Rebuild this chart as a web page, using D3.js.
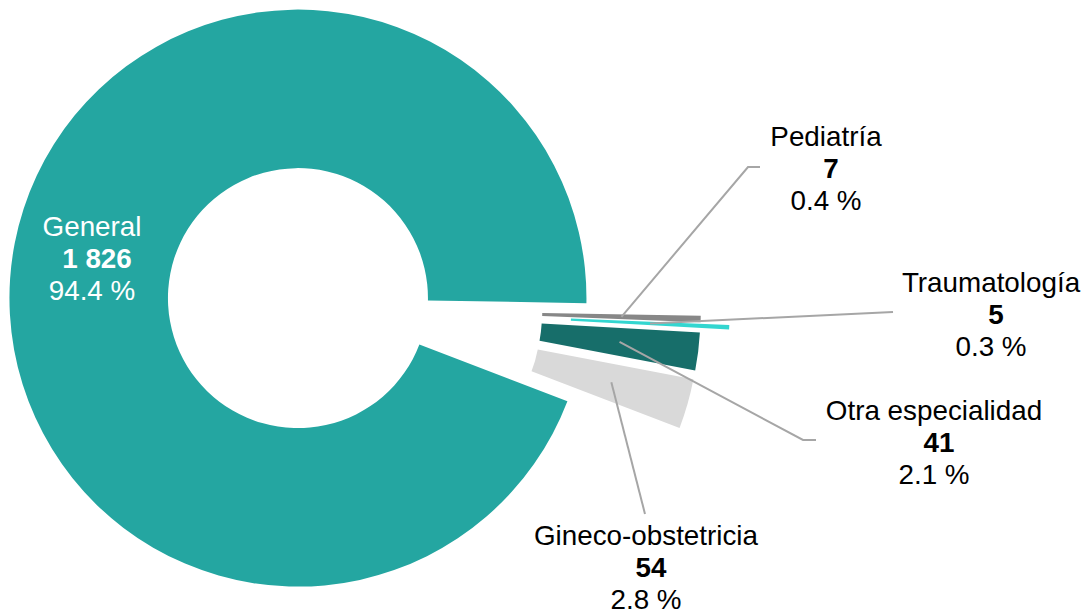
<!DOCTYPE html>
<html>
<head>
<meta charset="utf-8">
<script src="https://cdn.jsdelivr.net/npm/d3@7"></script>
<style>
  html, body { margin: 0; padding: 0; background: #ffffff; }
  svg { display: block; }
  text { font-family: "Liberation Sans", Arial, sans-serif; }
</style>
</head>
<body>
<svg id="chart" width="1087" height="614"></svg>
<script>
// ---- Data ----
const categories = ["General", "Pediatría", "Traumatología", "Otra especialidad", "Gineco-obstetricia"];
const values = [1826, 7, 5, 41, 54];
const valueLabels = ["1 826", "7", "5", "41", "54"];
const percentLabels = ["94.4 %", "0.4 %", "0.3 %", "2.1 %", "2.8 %"];

// ---- Styling / layout ----
const colors = ["#24A6A1", "#878787", "#33D6D0", "#176E6A", "#D9D9D9"];
const explodeFrac = [0.2, 0.2, 0.3, 0.2, 0.2];
const labelColors = ["#ffffff", "#000000", "#000000", "#000000", "#000000"];
// label centre x and first-line baseline y
const labelPos = [[92, 236], [826, 146], [991, 292], [934, 420], [646, 545]];
// leader path after centroid (elbow / end points)
const leaderPts = [null, [[748, 167], [760, 167]], [[893, 312]], [[803, 440], [816, 440]], [[645, 514]]];

const W = 1087, H = 614;
const cx = 354.6, cy = 309.1;
const R = 288.5, r = 130;
const fontSize = 27.8, lineGap = 32;
const numberShift = 5;

const svg = d3.select("#chart");
svg.append("rect").attr("width", W).attr("height", H).attr("fill", "#ffffff");

const deg = Math.PI / 180;
const start = 110.93 * deg;
const pie = d3.pie().sort(null).value(d => d).startAngle(start).endAngle(start + 2 * Math.PI);
const arcs = pie(values);
const arc = d3.arc().innerRadius(r).outerRadius(R);

const offsets = arcs.map((d, i) => {
  const mid = (d.startAngle + d.endAngle) / 2;
  const off = explodeFrac[i] * R;
  return [cx + Math.sin(mid) * off, cy - Math.cos(mid) * off];
});

const g = svg.append("g");
g.selectAll("path.slice")
  .data(arcs)
  .join("path")
  .attr("class", "slice")
  .attr("d", arc)
  .attr("fill", (d, i) => colors[i])
  .attr("transform", (d, i) => `translate(${offsets[i][0]},${offsets[i][1]})`);

// leader lines
const line = d3.line();
arcs.forEach((d, i) => {
  if (!leaderPts[i]) return;
  const c = arc.centroid(d);
  const p0 = [c[0] + offsets[i][0], c[1] + offsets[i][1]];
  svg.append("path")
    .attr("d", line([p0, ...leaderPts[i]]))
    .attr("fill", "none")
    .attr("stroke", "#A6A6A6")
    .attr("stroke-width", 2);
});

// labels
arcs.forEach((d, i) => {
  const [lx, ly] = labelPos[i];
  const t = svg.append("text")
    .attr("text-anchor", "middle")
    .attr("font-size", fontSize)
    .attr("fill", labelColors[i]);
  t.append("tspan").attr("x", lx).attr("y", ly).text(categories[i]);
  t.append("tspan").attr("x", lx + numberShift).attr("y", ly + lineGap).attr("font-weight", "bold").text(valueLabels[i]);
  t.append("tspan").attr("x", lx).attr("y", ly + 2 * lineGap).text(percentLabels[i]);
});
</script>
</body>
</html>
